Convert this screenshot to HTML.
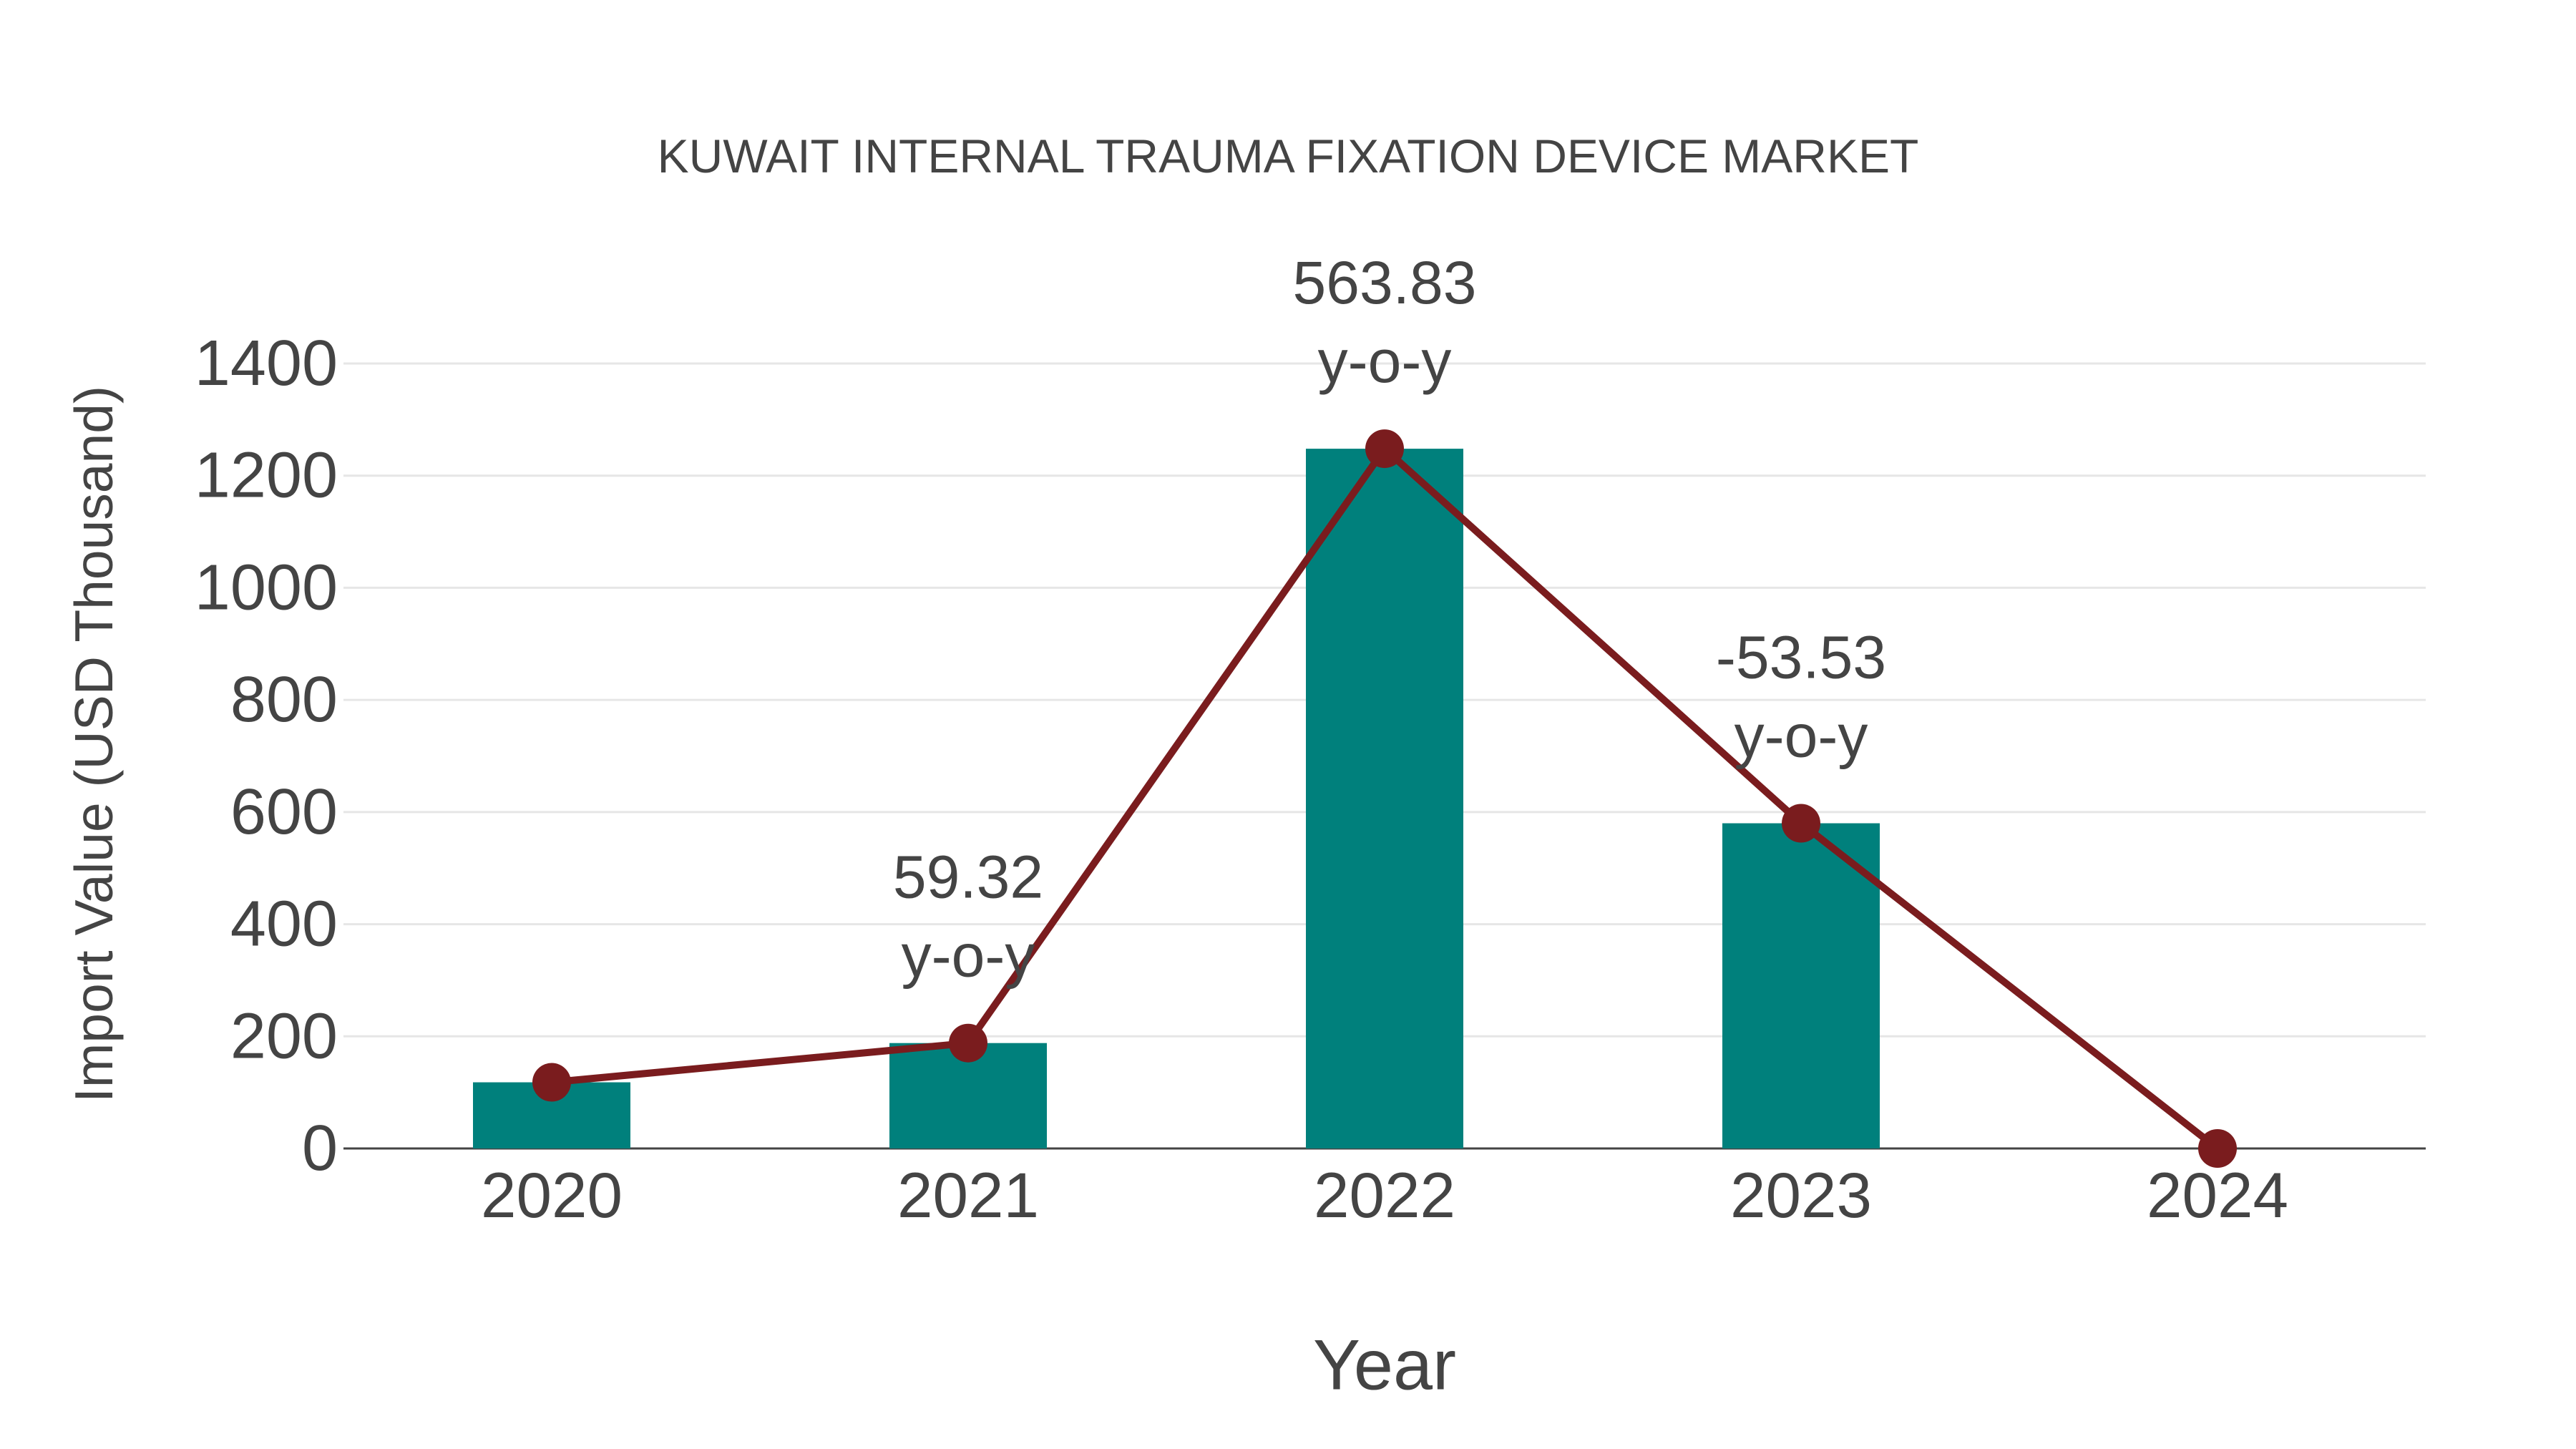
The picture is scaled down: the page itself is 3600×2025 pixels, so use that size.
<!DOCTYPE html>
<html><head><meta charset="utf-8"><style>
html,body{margin:0;padding:0;background:#fff;}
svg{display:block;font-family:"Liberation Sans",Arial,sans-serif;}
</style></head><body>
<svg id="chart" width="3600" height="2025" viewBox="0 0 3600 2025">
<text x="1800" y="218" font-size="66" fill="#444" text-anchor="middle" dominant-baseline="central">KUWAIT INTERNAL TRAUMA FIXATION DEVICE MARKET</text>
<text transform="translate(131,1040) rotate(-90)" font-size="75" fill="#444" text-anchor="middle" dominant-baseline="central">Import Value (USD Thousand)</text>
<text x="1935" y="1907" font-size="99" fill="#444" text-anchor="middle" dominant-baseline="central">Year</text>
<g id="grid"></g><g id="bars"></g><g id="line"></g><g id="labels"></g>
</svg>
<script>
const categories = ["2020","2021","2022","2023","2024"];
const values = [118, 188, 1248, 580, 0];
const yTicks = [0,200,400,600,800,1000,1200,1400];
const annotations = [null, "59.32", "563.83", "-53.53", null];

const NS="http://www.w3.org/2000/svg";
const L=480,R=3390,Y0=1605,Ytop=508,YMAX=1400;
const step=(R-L)/categories.length;
function x(i){return L+step*(i+0.5);}
function y(v){return Y0-(v/YMAX)*(Y0-Ytop);}
function mk(tag,attrs,parent){const e=document.createElementNS(NS,tag);for(const k in attrs)e.setAttribute(k,attrs[k]);parent.appendChild(e);return e;}
const grid=document.getElementById('grid'),bars=document.getElementById('bars'),line=document.getElementById('line'),labels=document.getElementById('labels');
yTicks.forEach(t=>{
  if(t>0){const g=mk('line',{x1:L,x2:R,y1:y(t),y2:y(t),stroke:'#e6e6e6','stroke-width':3},grid);
  
  }
  const tx=mk('text',{x:L-8,y:y(t),'font-size':90,fill:'#444','text-anchor':'end','dominant-baseline':'central'},grid);
  tx.textContent=t;
  
  
});
const ax=mk('line',{x1:L,x2:R,y1:Y0,y2:Y0,stroke:'#444','stroke-width':3},grid);


const bw=220;
categories.forEach((c,i)=>{
  const r=mk('rect',{x:x(i)-bw/2,y:y(values[i]),width:bw,height:Y0-y(values[i]),fill:'#00807c'},bars);
  
  
  const t=mk('text',{x:x(i),y:1670,'font-size':89,fill:'#444','text-anchor':'middle','dominant-baseline':'central'},labels);
  t.textContent=c;
  
  
});
const pl=mk('polyline',{points:values.map((v,i)=>x(i)+','+y(v)).join(' '),fill:'none',stroke:'#7a1c1e','stroke-width':10,'stroke-linejoin':'round'},line);


values.forEach((v,i)=>{
  const c=mk('circle',{cx:x(i),cy:y(v),r:27,fill:'#7a1c1e'},line);
  
  
  if(annotations[i]){
    const a=mk('text',{x:x(i),y:y(v)-232,'font-size':84,fill:'#444','text-anchor':'middle','dominant-baseline':'central'},labels);
    a.textContent=annotations[i];
    
    
    const b=mk('text',{x:x(i),y:y(v)-122,'font-size':84,fill:'#444','text-anchor':'middle','dominant-baseline':'central'},labels);
    b.textContent='y-o-y';
    
    
  }
});
</script>
</body></html>
